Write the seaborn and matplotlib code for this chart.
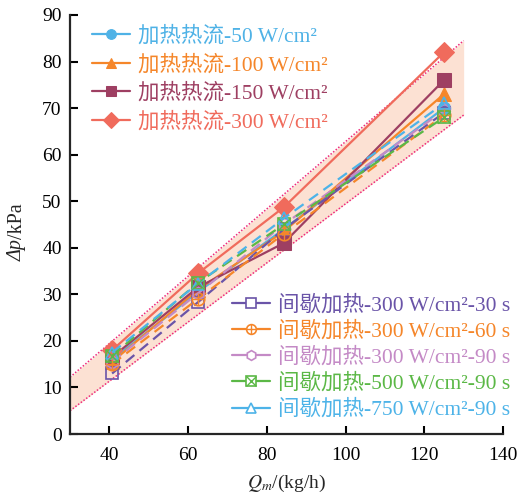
import matplotlib
matplotlib.use("Agg")
import matplotlib.pyplot as plt
from matplotlib.lines import Line2D
from matplotlib.legend_handler import HandlerTuple
import seaborn as sns

# Mass flow rate (kg/h)
flow = [40.7, 62.5, 84.3, 125.0]

# Continuous heating, pressure drop (kPa)
heat_50 = [16.0, 30.5, 44.0, 70.0]
heat_100 = [15.5, 31.0, 43.5, 73.0]
heat_150 = [16.5, 31.5, 41.0, 76.0]
heat_300 = [18.0, 34.5, 48.7, 82.0]

# Intermittent heating, pressure drop (kPa)
int_300_30 = [13.0, 28.3, 44.0, 69.0]
int_300_60 = [15.0, 29.0, 43.0, 68.5]
int_300_90 = [15.5, 30.2, 45.0, 69.5]
int_500_90 = [16.8, 32.5, 45.0, 68.0]
int_750_90 = [17.5, 32.3, 46.3, 71.0]

# Envelope band
band_x = [30, 130]
band_low = [5.0, 68.5]
band_high = [12.2, 84.5]

heat_labels = ["加热热流-50 W/cm²", "加热热流-100 W/cm²",
               "加热热流-150 W/cm²", "加热热流-300 W/cm²"]
int_labels = ["间歇加热-300 W/cm²-30 s", "间歇加热-300 W/cm²-60 s",
              "间歇加热-300 W/cm²-90 s", "间歇加热-500 W/cm²-90 s",
              "间歇加热-750 W/cm²-90 s"]

x_ticks = [40, 60, 80, 100, 120, 140]
y_ticks = [0, 10, 20, 30, 40, 50, 60, 70, 80, 90]

sns.set_style("ticks")
plt.rcParams["font.family"] = ["Liberation Serif", "Noto Sans CJK SC"]
plt.rcParams["mathtext.fontset"] = "stix"

fig = plt.figure(figsize=(5.2, 4.98), dpi=100)
ax = fig.add_axes([70 / 520, 64 / 498, 433 / 520, 419 / 498])

# envelope
ax.fill_between(band_x, band_low, band_high, color="#FCE1D3", lw=0, zorder=0)
for edge in (band_low, band_high):
    ax.plot(band_x, edge, ls=(0, (1, 1.2)), color="#EE2A7B", lw=1.1, zorder=1)

lw = 1.6
leg_fs = 15.5
tick_fs = 14

heat_series = [heat_50, heat_100, heat_150, heat_300]
heat_colors = ["#4FB2E6", "#F5862A", "#9E3F62", "#F06B5C"]
heat_markers = ["o", "^", "s", "D"]
heat_ms = [9, 10, 9.5, 10]

int_series = [int_300_30, int_300_60, int_300_90, int_500_90, int_750_90]
int_colors = ["#6A54A8", "#F5862A", "#C48AC6", "#5BB846", "#4DB3E8"]
int_markers = ["s", "o", "h", "s", "^"]
int_overlay = [None, "+", None, "x", None]

heat_handles = []
for vals, c, m, s in zip(heat_series, heat_colors, heat_markers, heat_ms):
    sns.lineplot(x=flow, y=vals, ax=ax, color=c, lw=lw, marker=m, markersize=s,
                 markeredgecolor=c, markerfacecolor=c, zorder=3)
    heat_handles.append(ax.lines[-1])

int_handles = []
for vals, c, m, ov in zip(int_series, int_colors, int_markers, int_overlay):
    sns.lineplot(x=flow, y=vals, ax=ax, color=c, lw=lw, marker=m, markersize=9,
                 markeredgecolor=c, markerfacecolor="none", markeredgewidth=1.2,
                 zorder=4)
    ax.lines[-1].set_dashes((5, 3))
    proxy = Line2D([], [], color=c, lw=lw, marker=m, markersize=9,
                   markeredgecolor=c, markerfacecolor="white",
                   markeredgewidth=1.2)
    if ov is not None:
        sns.scatterplot(x=flow, y=vals, ax=ax, color=c, marker=ov, s=81,
                        linewidth=1.0, zorder=5)
        over = Line2D([], [], ls="none", marker=ov, color=c,
                      markersize=9, markeredgewidth=1.0)
        int_handles.append((proxy, over))
    else:
        int_handles.append(proxy)

ax.set_xlim(30, 140)
ax.set_ylim(0, 90)
ax.set_xticks(x_ticks)
ax.set_yticks(y_ticks)
ax.tick_params(direction="in", length=6, width=1.5, labelsize=tick_fs, pad=6,
               colors="black")
ax.tick_params(axis="x", pad=9)
for sp in ("left", "bottom"):
    ax.spines[sp].set_linewidth(1.6)
for sp in ("top", "right"):
    ax.spines[sp].set_visible(False)

ax.set_xlabel("$Q_m$/(kg/h)", fontsize=tick_fs, labelpad=7)

# y label: italic "Δp" followed by upright "/kPa"
t1 = fig.text(17 / 520, 1 - 261 / 498, "Δp", rotation=90, style="italic",
              ha="center", va="bottom", fontsize=tick_fs + 0.5)
fig.canvas.draw()
bb = t1.get_window_extent().transformed(fig.transFigure.inverted())
fig.text(17 / 520, bb.y1, "/kPa", rotation=90, ha="center", va="bottom",
         fontsize=tick_fs + 0.5)

common = dict(loc="upper left", bbox_transform=fig.transFigure, frameon=False,
              fontsize=leg_fs, handlelength=1.75, handletextpad=0.37,
              borderpad=0, borderaxespad=0, markerscale=0.78)

leg1 = ax.legend(heat_handles, heat_labels,
                 bbox_to_anchor=(92 / 520, 1 - 26 / 498),
                 labelspacing=0.385, **common)
for t, c in zip(leg1.get_texts(), heat_colors):
    t.set_color(c)
ax.add_artist(leg1)

leg2 = ax.legend(int_handles, int_labels,
                 bbox_to_anchor=(232 / 520, 1 - 295 / 498),
                 labelspacing=0.265,
                 handler_map={tuple: HandlerTuple(ndivide=1, pad=0)}, **common)
for t, c in zip(leg2.get_texts(), int_colors):
    t.set_color(c)

fig.savefig("out.png", dpi=100)
